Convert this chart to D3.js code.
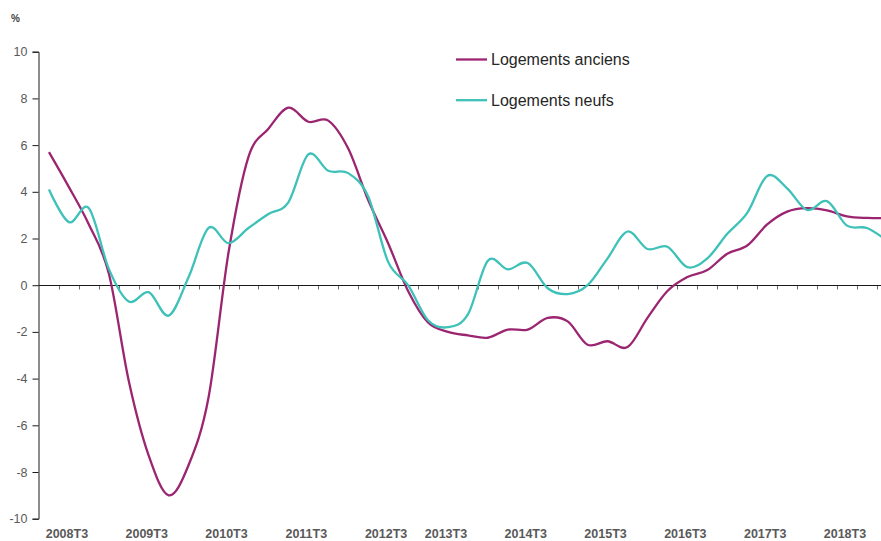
<!DOCTYPE html>
<html>
<head>
<meta charset="utf-8">
<script src="https://cdn.jsdelivr.net/npm/d3@7"></script>
<style>
  body { margin: 0; background: #fff; }
  svg { display: block; font-family: "Liberation Sans", Arial, sans-serif; }
</style>
</head>
<body>
<script>
// quarters, 2008T3 -> 2019T1 (the last one runs off the right edge)
var quarters = [];
for (var yr = 2008; yr <= 2019; yr++) {
  for (var t = 1; t <= 4; t++) {
    if ((yr === 2008 && t < 3) || (yr === 2019 && t > 1)) continue;
    quarters.push(yr + 'T' + t);
  }
}

var anciens = [5.7, 4.2, 2.6, 0.5, -4.1, -7.3, -9.0, -7.7, -4.8, 1.4,
               5.5, 6.7, 7.6, 7.0, 7.05, 5.85, 3.65, 1.8, -0.25, -1.6,
               -2.0, -2.15, -2.25, -1.9, -1.9, -1.4, -1.55, -2.55, -2.4, -2.65,
               -1.4, -0.25, 0.35, 0.65, 1.35, 1.7, 2.6, 3.15, 3.3, 3.2,
               2.95, 2.88, 2.87];

var neufs = [4.1, 2.7, 3.3, 0.7, -0.7, -0.3, -1.3, 0.35, 2.45, 1.8,
             2.45, 3.05, 3.55, 5.6, 4.9, 4.8, 3.8, 1.0, 0.0, -1.5,
             -1.8, -1.25, 1.05, 0.68, 0.95, -0.13, -0.38, 0.0, 1.15, 2.3,
             1.55, 1.65, 0.77, 1.15, 2.2, 3.1, 4.68, 4.15, 3.22, 3.6,
             2.55, 2.45, 1.9];

var yTicks = [-10, -8, -6, -4, -2, 0, 2, 4, 6, 8, 10];
var xLabels = ['2008T3', '2009T3', '2010T3', '2011T3', '2012T3', '2013T3',
               '2014T3', '2015T3', '2016T3', '2017T3', '2018T3'];

var series = [
  { name: 'Logements anciens', values: anciens, color: '#9b2570' },
  { name: 'Logements neufs',   values: neufs,   color: '#3dc1b8' }
];

var width = 881, height = 541;
var x0 = 39, step = 19.95;

var svg = d3.select('body').append('svg')
    .attr('width', width)
    .attr('height', height);

var x = d3.scaleBand()
    .domain(quarters)
    .range([x0, x0 + step * quarters.length])
    .paddingInner(0).paddingOuter(0);

var y = d3.scaleLinear()
    .domain([-10, 10])
    .range([518.7, 51.7]);

var cx = function(q){ return x(q) + x.bandwidth() / 2; };

// y axis
var yAxis = svg.append('g')
    .attr('transform', 'translate(' + (x0 - 0.5) + ',0)')
    .call(d3.axisLeft(y).tickValues(yTicks).tickSize(6).tickPadding(5)
      .tickFormat(function(d){ return String(d); }));
yAxis.select('.domain').attr('stroke', '#1a1a1a');
yAxis.selectAll('.tick line').attr('stroke', '#1a1a1a');
yAxis.selectAll('text')
    .attr('fill', '#595959')
    .style('font-size', '12.5px');

svg.append('text')
    .attr('x', 11).attr('y', 22)
    .attr('fill', '#404040')
    .style('font-size', '10px')
    .style('font-weight', 'bold')
    .text('%');

// x axis along zero, ticks between quarters
var y0 = Math.round(y(0)) + 0.5;
svg.append('g').selectAll('line')
  .data(quarters.slice(1))
  .enter().append('line')
    .attr('x1', function(d){ return Math.round(x(d)) + 0.5; })
    .attr('x2', function(d){ return Math.round(x(d)) + 0.5; })
    .attr('y1', y0).attr('y2', y0 + 4)
    .attr('stroke', '#6b6b6b');

svg.append('line')
    .attr('x1', x0 - 0.5).attr('x2', width)
    .attr('y1', y0).attr('y2', y0)
    .attr('stroke', '#1a1a1a');

// labels: before 2013 they sit one quarter later than their quarter
svg.append('g').selectAll('text')
  .data(xLabels)
  .enter().append('text')
    .attr('x', function(d){
      var i = quarters.indexOf(d);
      if (+d.slice(0, 4) < 2013) i += 1;
      return cx(quarters[i]) - 2;
    })
    .attr('y', 538)
    .attr('text-anchor', 'middle')
    .attr('fill', '#595959')
    .style('font-size', '12.5px')
    .style('font-weight', 'bold')
    .text(function(d){ return d; });

// lines
var line = d3.line()
    .x(function(d, i){ return cx(quarters[i]); })
    .y(function(d){ return y(d); })
    .curve(d3.curveCardinal.tension(0));

svg.append('g').selectAll('path')
  .data(series)
  .enter().append('path')
    .attr('d', function(d){ return line(d.values); })
    .attr('fill', 'none')
    .attr('stroke', function(d){ return d.color; })
    .attr('stroke-width', 2.3)
    .attr('stroke-linejoin', 'round');

// legend
var legend = svg.append('g').selectAll('g')
  .data(series)
  .enter().append('g')
    .attr('transform', function(d, i){ return 'translate(456,' + (59.5 + i * 40.7) + ')'; });

legend.append('line')
    .attr('x1', 0).attr('x2', 31)
    .attr('stroke', function(d){ return d.color; })
    .attr('stroke-width', 2.3);

legend.append('text')
    .attr('x', 35).attr('y', 5.5)
    .attr('fill', '#262626')
    .style('font-size', '16px')
    .text(function(d){ return d.name; });
</script>
</body>
</html>
